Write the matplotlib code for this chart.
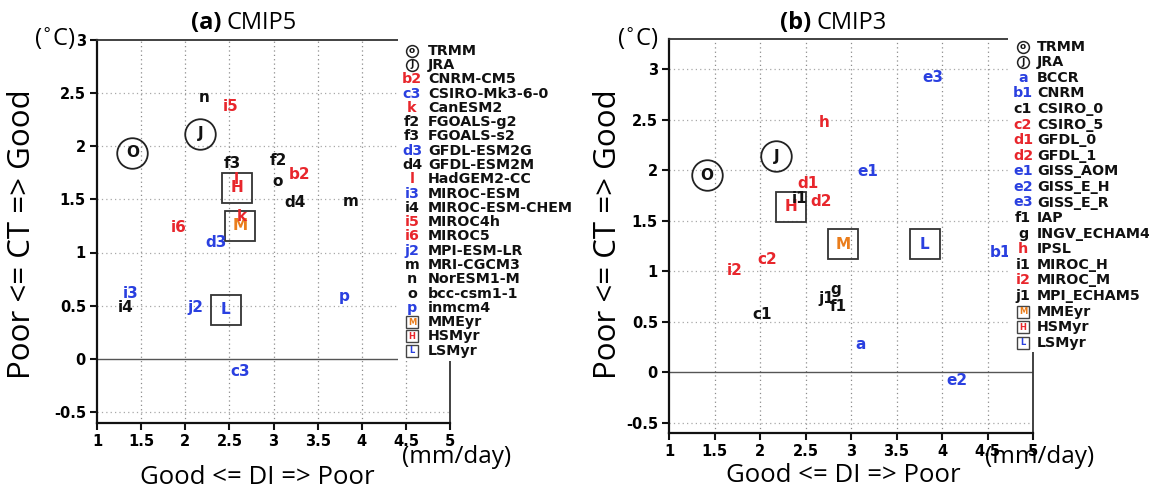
import matplotlib
matplotlib.use("Agg")
import matplotlib.pyplot as plt

W, H = 1149, 492

# ---------------- data: panel (a) CMIP5 ----------------
cmip5_codes = ['b2', 'c3', 'k', 'f2', 'f3', 'd3', 'd4', 'l', 'i3', 'i4', 'i5', 'i6', 'j2', 'm', 'n', 'o', 'p']
cmip5_names = ['CNRM-CM5', 'CSIRO-Mk3-6-0', 'CanESM2', 'FGOALS-g2', 'FGOALS-s2', 'GFDL-ESM2G',
               'GFDL-ESM2M', 'HadGEM2-CC', 'MIROC-ESM', 'MIROC-ESM-CHEM', 'MIROC4h', 'MIROC5',
               'MPI-ESM-LR', 'MRI-CGCM3', 'NorESM1-M', 'bcc-csm1-1', 'inmcm4']
cmip5_group = ['HS', 'LS', 'HS', 'MID', 'MID', 'LS', 'MID', 'HS', 'LS', 'MID', 'HS', 'HS', 'LS',
               'MID', 'MID', 'MID', 'LS']
cmip5_di = [3.29, 2.62, 2.64, 3.06, 2.53, 2.35, 3.24, 2.58, 1.38, 1.33, 2.51, 1.92, 2.11, 3.87, 2.21, 3.05, 3.80]
cmip5_ct = [1.73, -0.12, 1.34, 1.87, 1.84, 1.09, 1.47, 1.69, 0.61, 0.48, 2.37, 1.24, 0.48, 1.48, 2.46, 1.67, 0.59]

# reference data (observations / reanalysis)
ref_codes = ['O', 'J']
ref_names = ['TRMM', 'JRA']
cmip5_ref_di = [1.40, 2.17]
cmip5_ref_ct = [1.94, 2.12]

# ensemble means
ens_codes = ['M', 'H', 'L']
ens_names = ['MMEyr', 'HSMyr', 'LSMyr']
cmip5_ens_di = [2.62, 2.59, 2.46]
cmip5_ens_ct = [1.25, 1.61, 0.46]

# ---------------- data: panel (b) CMIP3 ----------------
cmip3_codes = ['a', 'b1', 'c1', 'c2', 'd1', 'd2', 'e1', 'e2', 'e3', 'f1', 'g', 'h', 'i1', 'i2', 'j1']
cmip3_names = ['BCCR', 'CNRM', 'CSIRO_0', 'CSIRO_5', 'GFDL_0', 'GFDL_1', 'GISS_AOM', 'GISS_E_H',
               'GISS_E_R', 'IAP', 'INGV_ECHAM4', 'IPSL', 'MIROC_H', 'MIROC_M', 'MPI_ECHAM5']
cmip3_group = ['LS', 'LS', 'MID', 'HS', 'HS', 'HS', 'LS', 'LS', 'LS', 'MID', 'MID', 'HS', 'MID', 'HS', 'MID']
cmip3_di = [3.11, 4.64, 2.02, 2.08, 2.53, 2.67, 3.18, 4.16, 3.90, 2.86, 2.83, 2.70, 2.43, 1.72, 2.73]
cmip3_ct = [0.28, 1.19, 0.57, 1.12, 1.87, 1.69, 1.99, -0.08, 2.92, 0.65, 0.82, 2.47, 1.72, 1.01, 0.73]
cmip3_ref_di = [1.42, 2.18]
cmip3_ref_ct = [1.95, 2.14]
cmip3_ens_di = [2.91, 2.34, 3.81]
cmip3_ens_ct = [1.27, 1.64, 1.27]

x_ticks = [1, 1.5, 2, 2.5, 3, 3.5, 4, 4.5, 5]
y_ticks_a = [-0.5, 0, 0.5, 1, 1.5, 2, 2.5, 3]
y_ticks_b = [-0.5, 0, 0.5, 1, 1.5, 2, 2.5, 3]

# ---------------- styles ----------------
RED = '#e8262c'
BLUE = '#2a40e0'
ORANGE = '#ea7d1c'
BLACK = '#111111'
GROUP_COLOR = {'HS': RED, 'LS': BLUE, 'MID': BLACK}
ENS_COLOR = {'M': ORANGE, 'H': RED, 'L': BLUE}
BOLD = 'DejaVu Sans'
CAP = 'Open Sans'

fig = plt.figure(figsize=(W / 100, H / 100), dpi=100)


def rect_px(x0, y0, x1, y1):
    return [x0 / W, 1 - y1 / H, (x1 - x0) / W, (y1 - y0) / H]


def fig_text(px, py, s, **kw):
    fig.text(px / W, 1 - py / H, s, **kw)


def fmt(v):
    return f'{v:g}'


def make_panel(rect, ylim, yticks, ref_di, ref_ct, ens_di, ens_ct, di, ct, codes, groups):
    ax = fig.add_axes(rect)
    ax.set_xlim(1, 5)
    ax.set_ylim(*ylim)
    ax.set_xticks(x_ticks)
    ax.set_xticklabels([fmt(v) for v in x_ticks])
    ax.set_yticks(yticks)
    ax.set_yticklabels([fmt(v) for v in yticks])
    for lab in ax.get_xticklabels() + ax.get_yticklabels():
        lab.set_fontfamily(BOLD)
        lab.set_fontweight('bold')
        lab.set_fontsize(10.5)
    ax.tick_params(direction='out', length=5, width=1.5, pad=3, color=BLACK)
    for v in x_ticks[1:-1]:
        ax.axvline(v, color='#8c8c8c', lw=0.9, ls=(0, (1, 2.5)), zorder=0)
    for v in yticks:
        if v != 0 and ylim[0] < v < ylim[1]:
            ax.axhline(v, color='#a8a8a8', lw=0.9, ls=(0, (1, 2.5)), zorder=0)
    ax.axhline(0, color='#555555', lw=1.0, zorder=1)
    for s in ['left', 'bottom']:
        ax.spines[s].set_linewidth(1.6)
        ax.spines[s].set_color(BLACK)
    for s in ['top', 'right']:
        ax.spines[s].set_linewidth(1.3)
        ax.spines[s].set_color('#333333')

    # reference circles
    ax.plot(ref_di, ref_ct, ls='none', marker='o', ms=22, mfc='none', mec='#222222', mew=1.3, zorder=3)
    for x, y, c in zip(ref_di, ref_ct, ref_codes):
        ax.text(x, y, c, ha='center', va='center', fontsize=11, fontweight='bold',
                family=BOLD, color=BLACK, zorder=4)
    # ensemble boxes
    ax.plot(ens_di, ens_ct, ls='none', marker='s', ms=21.5, mfc='none', mec='#333333', mew=1.3, zorder=3)
    for x, y, c in zip(ens_di, ens_ct, ens_codes):
        ax.text(x, y, c, ha='center', va='center', fontsize=11, fontweight='bold',
                family=BOLD, color=ENS_COLOR[c], zorder=4)
    # models
    for x, y, c, g in zip(di, ct, codes, groups):
        ax.text(x, y, c, ha='center', va='center', fontsize=11, fontweight='bold',
                family=BOLD, color=GROUP_COLOR[g], zorder=5)
    return ax


def make_legend(box, y0, dy, xs, xt, codes, names, groups):
    x0, top, x1, bot = box
    lg = fig.add_axes(rect_px(x0, top, x1, bot))
    lg.set_xlim(x0, x1)
    lg.set_ylim(bot, top)
    lg.set_xticks([])
    lg.set_yticks([])
    for s in lg.spines.values():
        s.set_visible(False)
    lg.set_facecolor('white')
    row = 0
    for c, n in zip(ref_codes, ref_names):
        y = y0 + row * dy
        lg.plot([xs], [y], marker='o', ms=8.5, mfc='white', mec='#222222', mew=1.1, ls='none')
        lg.text(xs, y, c.lower() if c == 'O' else c, ha='center', va='center', fontsize=6.5,
                fontweight='bold', family=BOLD, color=BLACK)
        lg.text(xt, y, n, ha='left', va='center', fontsize=10.3, fontweight='bold', family=BOLD, color=BLACK)
        row += 1
    for c, n, g in zip(codes, names, groups):
        y = y0 + row * dy
        lg.text(xs, y, c, ha='center', va='center', fontsize=10.3, fontweight='bold',
                family=BOLD, color=GROUP_COLOR[g])
        lg.text(xt, y, n, ha='left', va='center', fontsize=10.3, fontweight='bold', family=BOLD, color=BLACK)
        row += 1
    for c, n in zip(ens_codes, ens_names):
        y = y0 + row * dy
        lg.plot([xs], [y], marker='s', ms=8.5, mfc='white', mec='#444444', mew=1.0, ls='none')
        lg.text(xs, y, c, ha='center', va='center', fontsize=6, fontweight='bold',
                family=BOLD, color=ENS_COLOR[c])
        lg.text(xt, y, n, ha='left', va='center', fontsize=10.3, fontweight='bold', family=BOLD, color=BLACK)
        row += 1
    return lg


# ---------------- panel (a) ----------------
make_panel(rect_px(97, 40, 450, 422.5), (-0.6, 3.0), y_ticks_a,
           cmip5_ref_di, cmip5_ref_ct, cmip5_ens_di, cmip5_ens_ct,
           cmip5_di, cmip5_ct, cmip5_codes, cmip5_group)
make_legend((398, 33, 600, 361), 50.7, 14.29, 412, 428, cmip5_codes, cmip5_names, cmip5_group)

# ---------------- panel (b) ----------------
make_panel(rect_px(669, 39, 1033, 433), (-0.6, 3.3), y_ticks_b,
           cmip3_ref_di, cmip3_ref_ct, cmip3_ens_di, cmip3_ens_ct,
           cmip3_di, cmip3_ct, cmip3_codes, cmip3_group)
make_legend((1008, 33, 1149, 352), 46.7, 15.58, 1023, 1037, cmip3_codes, cmip3_names, cmip3_group)

# ---------------- captions ----------------
for cx, tag, name in [(221, '(a)', 'CMIP5'), (811, '(b)', 'CMIP3')]:
    fig_text(cx, 23, tag, ha='right', va='center', fontsize=17, fontweight='bold', family=CAP)
    fig_text(cx + 6, 23, name, ha='left', va='center', fontsize=17, family=CAP)

fig_text(22, 234, 'Poor <= CT => Good', rotation=90, ha='center', va='center', fontsize=22.5, family=CAP)
fig_text(608, 234, 'Poor <= CT => Good', rotation=90, ha='center', va='center', fontsize=22.5, family=CAP)
fig_text(257, 478, 'Good <= DI => Poor', ha='center', va='center', fontsize=18.5, family=CAP)
fig_text(843, 476, 'Good <= DI => Poor', ha='center', va='center', fontsize=18.5, family=CAP)
fig_text(402, 457, '(mm/day)', ha='left', va='center', fontsize=17.5, family=CAP)
fig_text(985, 457, '(mm/day)', ha='left', va='center', fontsize=17.5, family=CAP)
fig_text(75, 39, '($^{\\circ}$C)', ha='right', va='center', fontsize=17, family=CAP)
fig_text(658, 39, '($^{\\circ}$C)', ha='right', va='center', fontsize=17, family=CAP)

fig.savefig('out.png', dpi=100)
